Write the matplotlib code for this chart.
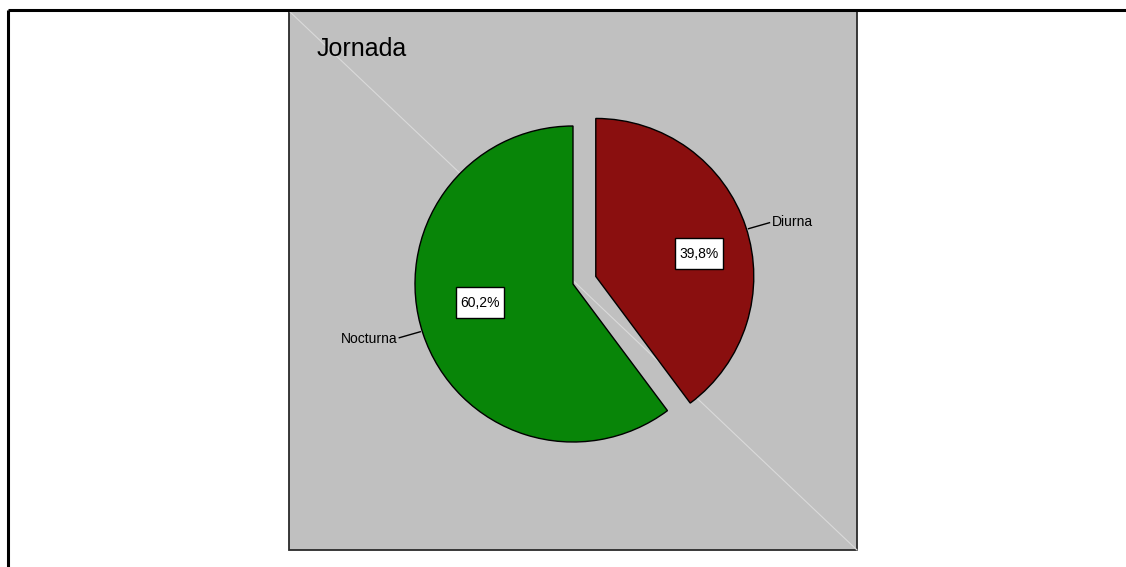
import numpy as np
import matplotlib.pyplot as plt
from matplotlib.patches import Rectangle

# data
labels = ["Diurna", "Nocturna"]
values = [39.8, 60.2]
pct_labels = ["39,8%", "60,2%"]
colors = ["#8a0f0f", "#088508"]
title = "Jornada"

W, H = 1126, 567
fig = plt.figure(figsize=(W / 100, H / 100), dpi=100)
ax = fig.add_axes([0, 0, 1, 1])

# pie (data units == pixels)
R = 158
center = (573, H - 284)
wedges, _ = ax.pie(values, colors=colors, startangle=90, counterclock=False,
                   explode=[24, 0], radius=R, center=center, frame=True,
                   wedgeprops=dict(edgecolor="black", linewidth=1.0))
for w in wedges:
    w.set_zorder(3)
ax.set_xlim(0, W)
ax.set_ylim(0, H)
ax.set_aspect("equal")
ax.axis("off")

# outer frame (top and left only)
ax.plot([8, W], [H - 10, H - 10], color="black", lw=2.2, solid_capstyle="butt")
ax.plot([8, 8], [H - 10, 0], color="black", lw=2.2, solid_capstyle="butt")

# grey chart panel
px0, px1, py0, py1 = 289, 857, H - 550, H - 11
ax.add_patch(Rectangle((px0, py0), px1 - px0, py1 - py0, facecolor="#c0c0c0",
                       edgecolor="#2a2a2a", lw=1.3, zorder=1))
ax.plot([px0, px1], [py1, py0], color="#dadada", lw=0.8, zorder=1.5)

ax.text(317, H - 56, title, fontsize=18, family="Liberation Sans",
        va="baseline", ha="left", zorder=5)

# labels
box_r = [0.67, 0.60]
box_shift = [-6, -7]
for i, w in enumerate(wedges):
    mid = np.deg2rad((w.theta1 + w.theta2) / 2)
    cx, cy = w.center
    d = np.array([np.cos(mid), np.sin(mid)])
    # percentage box
    ang = mid + np.deg2rad(box_shift[i])
    bx = cx + box_r[i] * R * np.cos(ang)
    by = cy + box_r[i] * R * np.sin(ang)
    ax.add_patch(Rectangle((bx - 24, by - 15.5), 48, 31, facecolor="white",
                           edgecolor="black", lw=1.0, zorder=4))
    ax.text(bx, by, pct_labels[i], fontsize=10, family="Liberation Sans",
            ha="center", va="center", zorder=5)
    # leader line and category label
    ang2 = mid - np.deg2rad(1)
    p0 = np.array([cx + (R + 2) * np.cos(ang2), cy + (R + 2) * np.sin(ang2)])
    side = np.sign(d[0])
    p1 = p0 + np.array([side * 21, 6 * np.sign(d[1])])
    ax.plot([p0[0], p1[0]], [p0[1], p1[1]], color="black", lw=1.0, zorder=4)
    ax.text(p1[0] + side * 2, p1[1] + np.sign(d[1]), labels[i], fontsize=10,
            family="Liberation Sans", ha="left" if side > 0 else "right",
            va="center", zorder=5)

fig.savefig("out.png", dpi=100, facecolor="white")
